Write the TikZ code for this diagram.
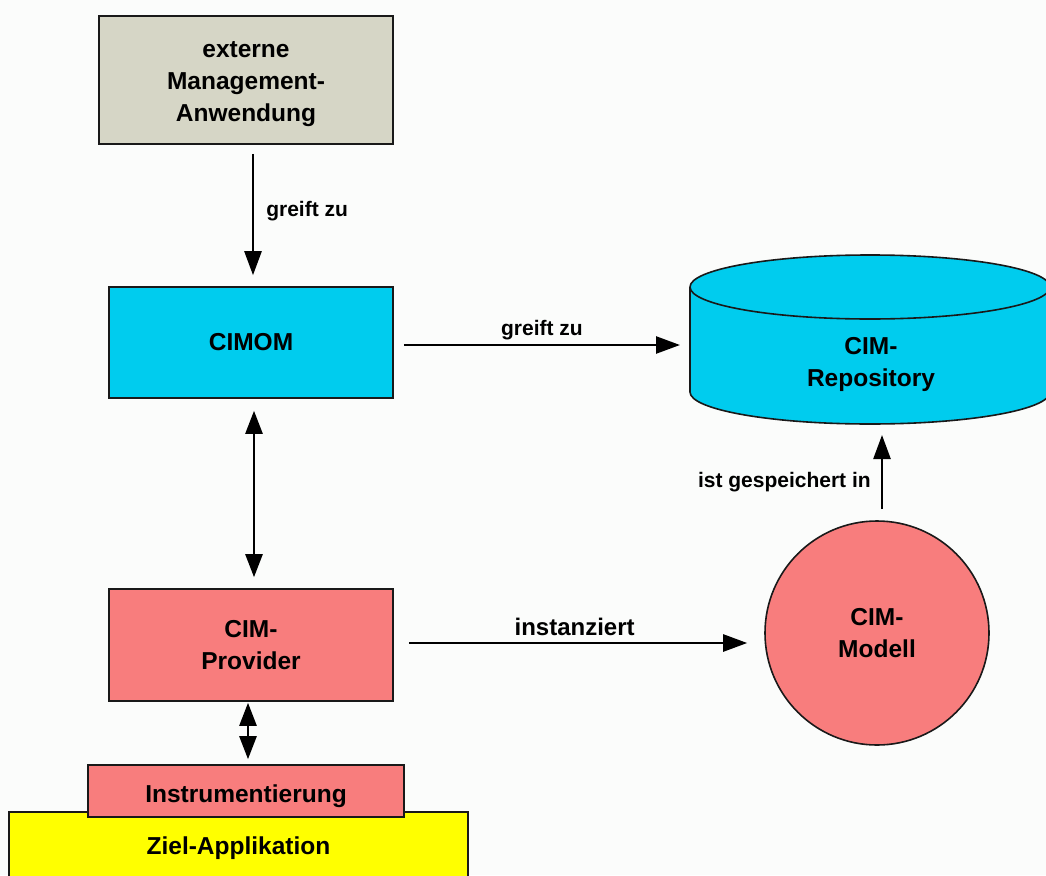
\documentclass[tikz,border=0pt]{standalone}
\usepackage{fontspec}
\setmainfont{Liberation Sans}
\usetikzlibrary{arrows.meta}

\definecolor{mgmtgray}{RGB}{214,214,198}
\definecolor{cimcyan}{RGB}{0,204,238}
\definecolor{cimred}{RGB}{248,125,125}
\definecolor{appyellow}{RGB}{255,255,0}
\definecolor{paper}{RGB}{251,252,251}

\newcommand\diagboxfont{\bfseries\fontsize{24.5}{32}\selectfont}
\newcommand\diaglblfont{\bfseries\fontsize{21}{24}\selectfont}
\newcommand\diagbiglblfont{\bfseries\fontsize{24}{28}\selectfont}

\begin{document}
\begin{tikzpicture}[x=1pt,y=-1pt,
  box/.style={draw=black!90, line width=1.6pt, rectangle, inner sep=0pt,
    align=center, font=\diagboxfont},
  lbl/.style={font=\diaglblfont, inner sep=0pt},
  arr/.style={line width=2.5pt, -{Triangle[length=24pt,width=17pt]}},
  biarr/.style={line width=2.5pt,
    {Triangle[length=23pt,width=17pt]}-{Triangle[length=23pt,width=17pt]}},
]
% page
\fill[paper] (0,0) rectangle (1046,875);
\useasboundingbox (0,0) rectangle (1046,875);

% boxes on the left
\node[box, fill=mgmtgray, minimum width=294pt, minimum height=128pt]
  (ext) at (246,80) {\rule{0pt}{24pt}externe\\Management-\\Anwendung};
\node[box, fill=cimcyan, minimum width=284pt, minimum height=111pt]
  (cimom) at (251,342.5) {CIMOM};
\node[box, fill=cimred, minimum width=284pt, minimum height=112pt]
  (prov) at (251,645) {CIM-\\Provider};
\node[box, fill=appyellow, minimum width=459pt, minimum height=73pt]
  (ziel) at (238.5,848.5) {Ziel-Applikation};
\node[box, fill=cimred, minimum width=316pt, minimum height=52pt]
  (instr) at (246,791) {\rule{0pt}{29pt}Instrumentierung};

% repository drum
\draw[line width=1.6pt, draw=black!90, fill=cimcyan]
  (870,392) ellipse [x radius=180pt, y radius=32pt];
\fill[cimcyan] (690,287) rectangle (1050,392);
\draw[line width=1.6pt, draw=black!90] (690,287) -- (690,392);
\draw[line width=1.6pt, draw=black!90] (1050,287) -- (1050,392);
\draw[line width=1.6pt, draw=black!90, fill=cimcyan]
  (870,287) ellipse [x radius=180pt, y radius=32pt];
\node[font=\diagboxfont, align=center, inner sep=0pt]
  (repo) at (871,364) {CIM-\\Repository};
\coordinate (repoW) at (690,345);
\coordinate (repoS) at (882,424);

% model
\node[circle, draw=black!90, line width=1.6pt, fill=cimred,
  minimum size=224pt, inner sep=0pt, align=center, font=\diagboxfont]
  (model) at (877,633) {CIM-\\Modell};

% connectors
\draw[arr] ([xshift=7pt,yshift=-9pt]ext.south)
  -- ([xshift=2pt,yshift=11pt]cimom.north)
  node[lbl, pos=0.47, anchor=west, xshift=12pt] (l1) {greift zu};
\draw[arr] ([xshift=10pt,yshift=-2.5pt]cimom.east)
  -- ([xshift=-10pt]repoW)
  node[lbl, midway, anchor=south, yshift=4pt] (l2) {greift zu};
\draw[biarr] ([xshift=3pt,yshift=-12pt]cimom.south)
  -- ([xshift=3pt,yshift=11pt]prov.north);
\draw[biarr] ([xshift=-3pt,yshift=-1pt]prov.south)
  -- ([xshift=2pt,yshift=5pt]instr.north);
\draw[arr] ([xshift=15pt,yshift=2pt]prov.east)
  -- ([xshift=-17pt,yshift=-10pt]model.west)
  node[font=\diagbiglblfont, inner sep=0pt, pos=0.49, anchor=south, yshift=6pt]
  (l3) {instanziert};
\draw[arr] ([xshift=5pt,yshift=11pt]model.north)
  -- ([yshift=-11pt]repoS)
  node[lbl, midway, anchor=east, xshift=-10pt, yshift=-10pt] (l4) {ist gespeichert in};
\end{tikzpicture}
\end{document}
